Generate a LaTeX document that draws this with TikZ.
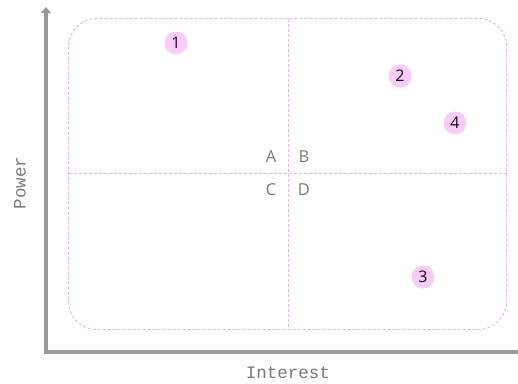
\documentclass[tikz,border=0pt]{standalone}
\usepackage{fontspec}
\setmainfont{Open Sans}
\setmonofont{Liberation Mono}
\usetikzlibrary{arrows.meta,positioning}

\definecolor{axisgray}{HTML}{9A9A9A}
\definecolor{txtgray}{HTML}{7A7A7A}
\definecolor{quadpink}{HTML}{EBB0EB}
\definecolor{dotpink}{HTML}{F9CCF9}

\tikzset{
  axis/.style={line width=4.5pt, draw=axisgray},
  quadline/.style={draw=quadpink, dash pattern=on 3pt off 2pt, line width=0.9pt},
  quad/.style={font=\fontsize{16.5}{16.5}\selectfont, text=txtgray},
  stake/.style={circle, fill=dotpink, minimum size=23pt, inner sep=0pt,
    font=\fontsize{16}{16}\selectfont, text=black!75!violet},
  axlabel/.style={font=\ttfamily\fontsize{17.5}{17.5}\selectfont, text=txtgray}
}

\begin{document}
\begin{tikzpicture}[x=1pt,y=-1pt]
    \useasboundingbox (0,0) rectangle (518,383);
    % axes
    \coordinate (O) at (46,352);
    \coordinate (ytop) at (46,7);
    \coordinate (xend) at (518,352);
    \draw[axis, -{Triangle[length=6pt,width=10pt]}] (O) -- (ytop);
    \draw[axis] ([xshift=-2.25pt]O) -- (xend);
    \node[axlabel, rotate=90] (power) at (20,183) {Power};
    \node[axlabel] (interest) at (288,373) {Interest};
    % quadrant frame
    \draw[quadline, rounded corners=28pt] (68.5,18.5) rectangle (506.5,329.5);
    \draw[quadline] (288.5,18.5) -- (288.5,329.5);
    \draw[quadline] (68.5,173.5) -- (506.5,173.5);
    \node[quad] (qa) at (271,157) {A};
    \node[quad] (qb) at (304,157) {B};
    \node[quad] (qc) at (271,190) {C};
    \node[quad] (qd) at (304,190) {D};
    % stakeholders
    \node[stake] (s1) at (176,43) {1};
    \node[stake] (s2) at (400,76) {2};
    \node[stake] (s4) at (455,123) {4};
    \node[stake] (s3) at (423,277) {3};
\end{tikzpicture}
\end{document}
